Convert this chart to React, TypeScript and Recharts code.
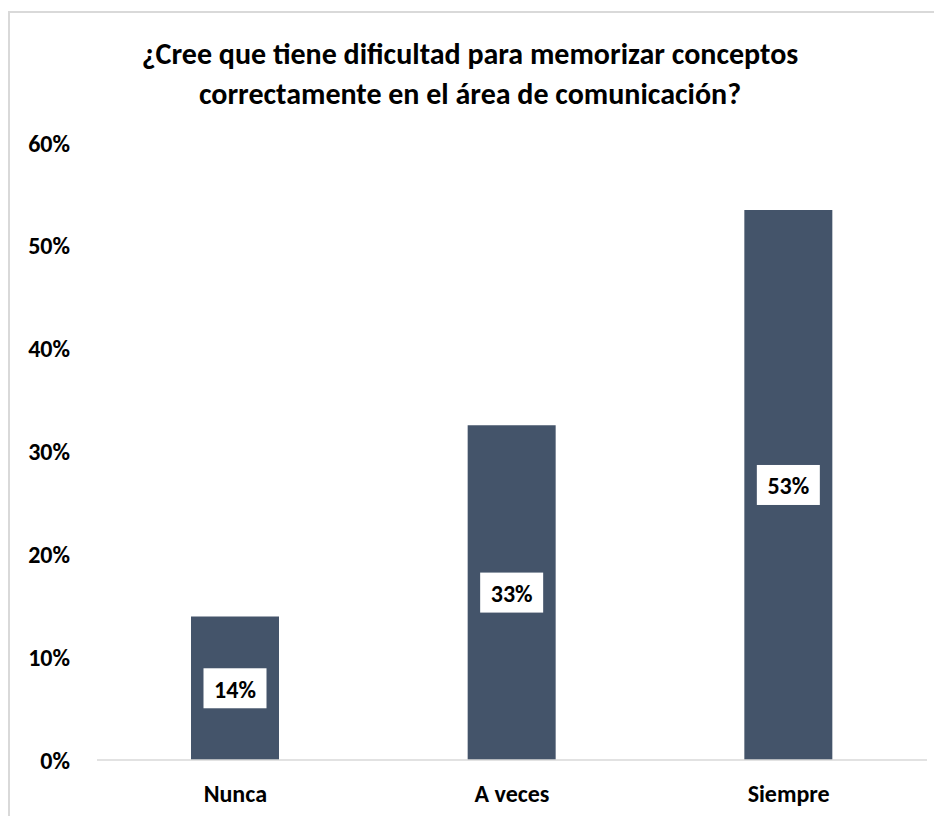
import React from "react";
import { BarChart, Bar, XAxis, YAxis, LabelList } from "recharts";

const categories = ["Nunca", "A veces", "Siempre"];
const values = [0.1395, 0.3256, 0.5349];
const yTicks = [0, 0.1, 0.2, 0.3, 0.4, 0.5, 0.6];
const titleLines = [
  "¿Cree que tiene dificultad para memorizar conceptos",
  "correctamente en el área de comunicación?",
];

const data = categories.map((c, i) => ({ name: c, value: values[i] }));

const FONT = "Carlito, Calibri, Lato, 'Open Sans', sans-serif";
const pct = (v: number) => `${Math.round(v * 100)}%`;

const BoxLabel = (props: any) => {
  const { x, y, width, height, value } = props;
  const cx = x + width / 2;
  const cy = y + height / 2;
  const bw = 63;
  const bh = 40;
  return (
    <g>
      <rect x={cx - bw / 2} y={cy - bh / 2} width={bw} height={bh} fill="#ffffff" />
      <text
        x={cx}
        y={cy + 1}
        textAnchor="middle"
        dominantBaseline="central"
        fontFamily={FONT}
        fontWeight={700}
        fontSize={24}
        fill="#000000"
      >
        {pct(value)}
      </text>
    </g>
  );
};

export default function App() {
  return (
    <div
      style={{
        position: "relative",
        marginTop: 3,
        width: 960,
        height: 820,
        borderTop: "2px solid #d9d9d9",
        borderLeft: "2px solid #d9d9d9",
        background: "#ffffff",
        fontFamily: FONT,
      }}
    >
      <div
        style={{
          position: "absolute",
          left: 0,
          top: 21,
          width: 920,
          textAlign: "center",
          fontWeight: 700,
          fontSize: 30,
          lineHeight: "40px",
          color: "#000",
        }}
      >
        {titleLines.map((l) => (
          <div key={l}>{l}</div>
        ))}
      </div>
      <BarChart
        width={932}
        height={800}
        data={data}
        margin={{ top: 130, right: 15, bottom: 0, left: 0 }}
      >
        <XAxis
          dataKey="name"
          height={53}
          tickSize={0}
          tickMargin={25}
          axisLine={{ stroke: "#d9d9d9", strokeWidth: 1.5 }}
          tickLine={false}
          tick={{ fontFamily: FONT, fontWeight: 700, fontSize: 24, fill: "#000" }}
        />
        <YAxis
          width={87}
          domain={[0, 0.6]}
          ticks={yTicks}
          tickFormatter={pct}
          tickSize={0}
          tickMargin={27}
          axisLine={false}
          tickLine={false}
          tick={{ fontFamily: FONT, fontWeight: 700, fontSize: 24, fill: "#000" }}
        />
        <Bar dataKey="value" fill="#44546a" barSize={88} isAnimationActive={false}>
          <LabelList dataKey="value" content={BoxLabel} />
        </Bar>
      </BarChart>
    </div>
  );
}
